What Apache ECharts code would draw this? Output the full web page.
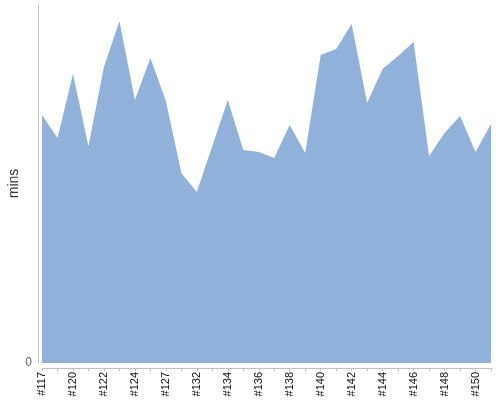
<!DOCTYPE html>
<html>
<head>
<meta charset="utf-8">
<script src="https://cdn.jsdelivr.net/npm/echarts@6/dist/echarts.min.js"></script>
<style>
  html, body { margin: 0; padding: 0; background: #fff; }
  #chart { width: 500px; height: 400px; }
</style>
</head>
<body>
<div id="chart"></div>
<script>
// 빌드 번호 (라벨은 하나 건너 하나만 보임)
var builds = ['#117', '#118', '#120', '#121', '#122', '#123', '#124', '#125', '#127', '#130',
  '#132', '#133', '#134', '#135', '#136', '#137', '#138', '#139', '#140', '#141',
  '#142', '#143', '#144', '#145', '#146', '#147', '#148', '#149', '#150', '#151'];

// 빌드 시간 (분)
var durations = [24.8, 22.5, 28.9, 21.7, 29.6, 34.2, 26.3, 30.5, 26.2, 19.0,
  17.1, 21.7, 26.3, 21.3, 21.1, 20.5, 23.8, 21.0, 30.8, 31.4,
  33.9, 26.0, 29.4, 30.7, 32.1, 20.7, 23.0, 24.7, 21.1, 23.9];

var yMax = 35.9;

var myChart = echarts.init(document.getElementById('chart'));

var option = {
  animation: false,
  grid: {
    left: 42,
    right: 9,
    top: 4,
    bottom: 37,
    containLabel: false,
    outerBoundsMode: 'none'
  },
  xAxis: {
    type: 'category',
    data: builds,
    boundaryGap: false,
    offset: 5,
    axisLine: { show: true, onZero: false, lineStyle: { color: '#c0c0c0' } },
    axisTick: {
      show: true,
      interval: 0,
      length: 3,
      lineStyle: { color: '#c0c0c0' }
    },
    axisLabel: {
      interval: 1,
      rotate: 90,
      margin: 4,
      color: '#111',
      fontFamily: 'Liberation Sans',
      fontSize: 11
    },
    splitLine: { show: false }
  },
  yAxis: {
    type: 'value',
    min: 0,
    max: yMax,
    offset: 4,
    name: 'mins',
    nameLocation: 'middle',
    nameGap: 17,
    nameMoveOverlap: false,
    nameRotate: 90,
    nameTextStyle: {
      color: '#333',
      fontFamily: 'Liberation Sans',
      fontSize: 14
    },
    axisLine: { show: true, lineStyle: { color: '#c0c0c0' } },
    axisTick: { show: false },
    axisLabel: {
      color: '#666',
      fontFamily: 'Liberation Sans',
      fontSize: 12,
      margin: 6,
      formatter: function (v) {
        return v === 0 ? '0' : '';
      }
    },
    splitLine: { show: false }
  },
  series: [
    {
      type: 'line',
      data: durations,
      symbol: 'none',
      lineStyle: { width: 0 },
      areaStyle: { color: '#8fb1da', opacity: 1 }
    }
  ]
};

myChart.setOption(option);
</script>
</body>
</html>
